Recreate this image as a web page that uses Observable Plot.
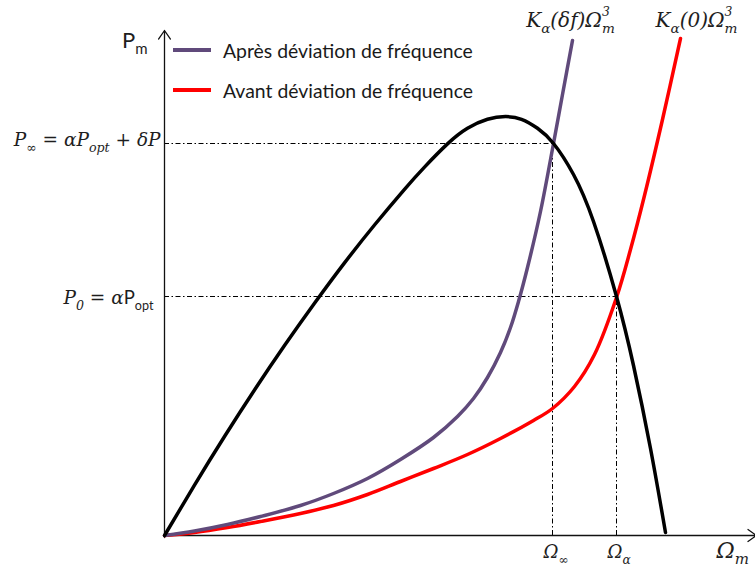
<!DOCTYPE html>
<html>
<head>
<meta charset="utf-8">
<script src="https://cdn.jsdelivr.net/npm/d3@7"></script>
<script src="https://cdn.jsdelivr.net/npm/@observablehq/plot@0.6"></script>
<style>
  body { margin: 0; background: white; }
  #wrap { position: relative; width: 755px; height: 570px; overflow: hidden; }
  .legend { position: absolute; left: 173px; top: 30px; font-family: Lato, "Liberation Sans", sans-serif; font-size: 19.4px; color: #1a1a1a; }
  .legend .row { display: flex; align-items: center; height: 40px; }
  .legend .sw { width: 38px; height: 4px; margin-right: 12px; }
</style>
</head>
<body>
<div id="wrap"></div>
<script>
// ---- data (x = rotor speed, y = power; arbitrary units) ----
const turbinePower = [[0,0],[30,50.4],[60,99.0],[90,145.5],[120,189.9],[150,232.2],[180,272.6],[210,310.5],[240,346.2],[260,368.4],[283,391.6],[303,407.2],[323,416.2],[341,418.9],[357,416.2],[373,407.2],[389,392],[409,361],[429,314],[452,239],[469,170],[486,87],[501,3]];
const afterDeviation = [[0,0],[30,4.5],[63,11],[96,19],[136,30],[169,42],[203,57],[236,76],[269,98],[293,119],[309,137],[323,158],[336,183],[346,208],[354,234],[363,268],[376,324],[389,392],[398,441],[408,495]];
const beforeDeviation = [[0,0],[30,3],[63,8],[96,14],[136,22],[169,30],[203,41],[236,54],[269,67],[303,81],[336,97],[369,115],[388,127],[410,149],[430,181],[452,238],[466,286],[480,340],[498,416],[516,497]];
const operatingPoints = [
  {omega: 388, P: 392, omegaLabel: "Ω_{∞}", PLabel: "P_{∞} = αP_{opt} + δP"},
  {omega: 452, P: 239, omegaLabel: "Ω_{α}", PLabel: "P_{0} = α|P_{opt}|"}
];
const curveLabels = ["K_{α}(δf)Ω_{m}^{3}", "K_{α}(0)Ω_{m}^{3}"];
const seriesNames = ["Après déviation de fréquence", "Avant déviation de fréquence"];
const seriesColors = ["#604A7B", "#FF0000"];
const axisExtent = {x: 592, y: 505};
const axisLabels = {x: "Ω_{m}", y: "P_{m}"};

const serif = "'DejaVu Serif', 'Liberation Serif', serif";
const dash = "5,2.5,1.5,2.5";
const ink = "#1e1e1e";

const chart = Plot.plot({
  width: 755, height: 570, margin: 0,
  x: {domain: [-164, 591], axis: null},
  y: {domain: [-35, 535], axis: null},
  style: {background: "white", overflow: "visible"},
  marks: [
    Plot.ruleY(operatingPoints, {x1: 0, x2: "omega", y: "P", stroke: "black", strokeWidth: 1, strokeDasharray: dash}),
    Plot.ruleX(operatingPoints, {x: "omega", y1: 0, y2: "P", stroke: "black", strokeWidth: 1, strokeDasharray: dash}),
    Plot.arrow([axisExtent], {x1: 0, y1: -2, x2: 0, y2: d => d.y, stroke: "#111", strokeWidth: 1.3, headLength: 12, headAngle: 70}),
    Plot.arrow([axisExtent], {x1: 0, y1: 0, x2: d => d.x, y2: 0, stroke: "#111", strokeWidth: 1.3, headLength: 12, headAngle: 70}),
    Plot.line(beforeDeviation, {x: d => d[0], y: d => d[1], stroke: seriesColors[1], strokeWidth: 3.5, curve: "catmull-rom"}),
    Plot.line(afterDeviation, {x: d => d[0], y: d => d[1], stroke: seriesColors[0], strokeWidth: 3.5, curve: "catmull-rom"}),
    Plot.line(turbinePower, {x: d => d[0], y: d => d[1], stroke: "black", strokeWidth: 3.5, curve: "natural"}),
    Plot.text([afterDeviation[afterDeviation.length - 1]], {x: d => d[0], y: d => d[1], text: () => curveLabels[0], dx: -2, dy: -20, fontFamily: serif, fontStyle: "italic", fontSize: 20, letterSpacing: 2.2, fill: ink}),
    Plot.text([beforeDeviation[beforeDeviation.length - 1]], {x: d => d[0], y: d => d[1], text: () => curveLabels[1], dx: 16, dy: -18, fontFamily: serif, fontStyle: "italic", fontSize: 20, letterSpacing: 2.2, fill: ink}),
    Plot.text(operatingPoints, {x: "omega", y: 0, text: "omegaLabel", dx: -9, dy: 17, textAnchor: "start", fontFamily: serif, fontStyle: "italic", fontSize: 18, fill: ink}),
    Plot.text(operatingPoints.slice(0, 1), {x: 0, y: "P", text: "PLabel", dx: -4, dy: -3, textAnchor: "end", fontFamily: serif, fontStyle: "italic", fontSize: 18.5, fill: ink}),
    Plot.text(operatingPoints.slice(1), {x: 0, y: "P", text: "PLabel", dx: -11, dy: 2, textAnchor: "end", fontFamily: serif, fontStyle: "italic", fontSize: 18.5, fill: ink}),
    Plot.text([axisExtent], {x: d => d.x, y: 0, text: () => axisLabels.x, dx: -40, dy: 15, textAnchor: "start", fontFamily: serif, fontStyle: "italic", fontSize: 22, fill: ink}),
    Plot.text([axisExtent], {x: 0, y: d => d.y, text: () => axisLabels.y, dx: -17, dy: 10, textAnchor: "end", fontFamily: "Lato, 'Liberation Sans', sans-serif", fontSize: 22, fill: ink})
  ]
});

const wrap = document.getElementById("wrap");
wrap.appendChild(chart);

// legend
const legend = document.createElement("div");
legend.className = "legend";
seriesNames.forEach((name, i) => {
  const row = document.createElement("div");
  row.className = "row";
  const sw = document.createElement("span");
  sw.className = "sw";
  sw.style.background = seriesColors[i];
  const t = document.createElement("span");
  t.textContent = name;
  row.appendChild(sw); row.appendChild(t);
  legend.appendChild(row);
});
wrap.appendChild(legend);

// rich text: _{sub}, ^{sup}, |upright|
function parseRich(s) {
  const segs = []; let up = false; let i = 0; let buf = "";
  const flush = () => { if (buf) { segs.push({t: buf, pos: "n", up}); buf = ""; } };
  while (i < s.length) {
    const c = s[i];
    if (c === "|") { flush(); up = !up; i++; continue; }
    if (c === "_" || c === "^") {
      flush(); i++;
      let content;
      if (s[i] === "{") { const j = s.indexOf("}", i); content = s.slice(i + 1, j); i = j + 1; }
      else { content = s[i]; i++; }
      segs.push({t: content, pos: c === "_" ? "sub" : "sup", up});
      continue;
    }
    buf += c; i++;
  }
  flush();
  return segs;
}
const NS = "http://www.w3.org/2000/svg";
chart.querySelectorAll("text").forEach(el => {
  const s = el.textContent;
  if (!/[_^|]/.test(s)) return;
  const fs = parseFloat(getComputedStyle(el).fontSize);
  const segs = parseRich(s);
  el.textContent = "";
  let cur = 0, prevSubW = null;
  segs.forEach(g => {
    const ts = document.createElementNS(NS, "tspan");
    ts.textContent = g.t;
    const target = g.pos === "sub" ? 0.3 * fs : g.pos === "sup" ? -0.55 * fs : 0;
    ts.setAttribute("dy", target - cur); cur = target;
    if (g.pos !== "n") ts.setAttribute("font-size", (fs * (g.pos === "sup" ? 0.62 : 0.68)).toFixed(1));
    if (g.up) { ts.setAttribute("font-style", "normal"); ts.setAttribute("font-family", "Lato, 'Liberation Sans', sans-serif"); }
    if (g.pos === "sup" && prevSubW != null) ts.setAttribute("dx", -prevSubW);
    el.appendChild(ts);
    prevSubW = g.pos === "sub" ? ts.getComputedTextLength() : null;
  });
});
</script>
</body>
</html>
